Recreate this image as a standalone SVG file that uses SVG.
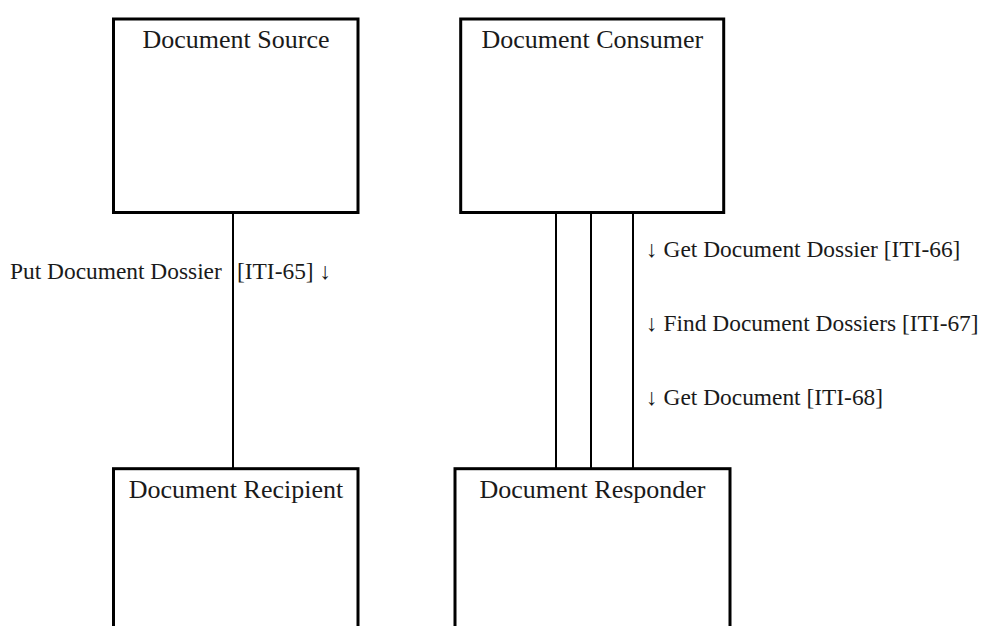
<svg xmlns="http://www.w3.org/2000/svg" width="981" height="626" viewBox="0 0 981 626">
<style>
.box{fill:#fff;stroke:#000;stroke-width:3}
.name{font-family:"Liberation Serif","Times New Roman",serif;font-size:26px;fill:#1a1a1a;text-anchor:middle}
.lbl{font-family:"Liberation Serif","DejaVu Serif",serif;font-size:23.4px;fill:#1a1a1a}
.conn line{stroke:#000;stroke-width:2}
</style>
<rect width="981" height="626" fill="#fff"/>
<g id="connectors" class="conn">
<line x1="233" y1="213" x2="233" y2="468"/>
<line x1="556" y1="213" x2="556" y2="468"/>
<line x1="591" y1="213" x2="591" y2="468"/>
<line x1="633" y1="213" x2="633" y2="468"/>
</g>
<g id="document-source">
<rect class="box" x="113.5" y="19" width="244.5" height="193.5"/>
<text class="name" x="236" y="48">Document Source</text>
</g>
<g id="document-consumer">
<rect class="box" x="460.7" y="19" width="263" height="193.5"/>
<text class="name" x="592.3" y="48">Document Consumer</text>
</g>
<g id="document-recipient">
<rect class="box" x="113.5" y="468.7" width="244.5" height="200"/>
<text class="name" x="236" y="498">Document Recipient</text>
</g>
<g id="document-responder">
<rect class="box" x="455" y="468.7" width="275" height="200"/>
<text class="name" x="592.5" y="498">Document Responder</text>
</g>
<g id="labels">
<text class="lbl" y="279"><tspan x="10">Put Document Dossier</tspan><tspan x="237">[ITI-65] ↓</tspan></text>
<text class="lbl" x="646" y="257">↓ Get Document Dossier [ITI-66]</text>
<text class="lbl" x="646" y="331">↓ Find Document Dossiers [ITI-67]</text>
<text class="lbl" x="646" y="405">↓ Get Document [ITI-68]</text>
</g>
</svg>
